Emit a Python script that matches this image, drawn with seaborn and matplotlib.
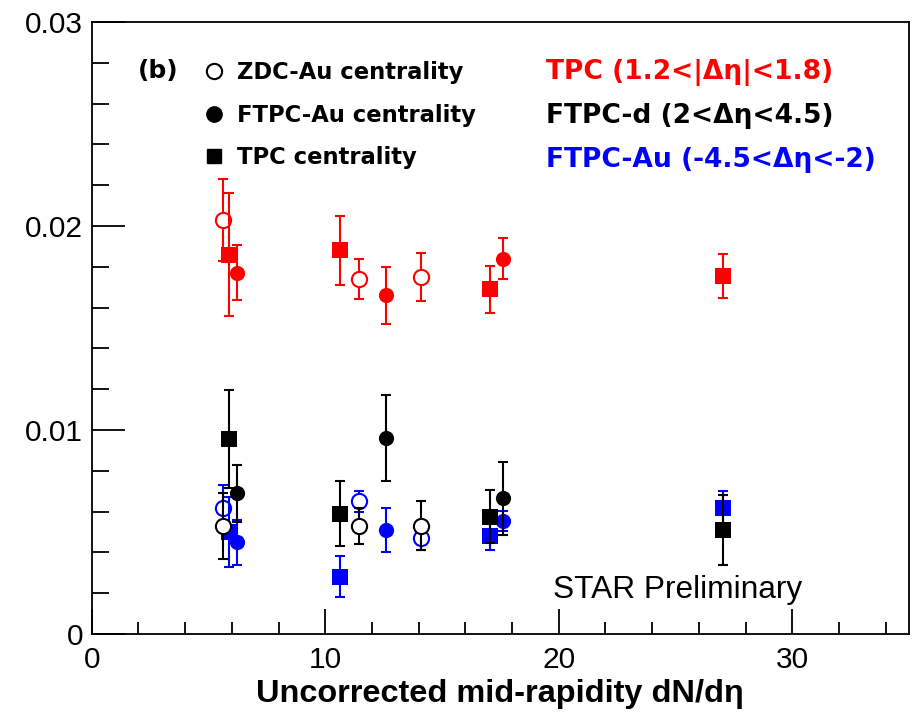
import numpy as np
import pandas as pd
import seaborn as sns
import matplotlib
matplotlib.use("Agg")
import matplotlib.pyplot as plt
from matplotlib.lines import Line2D
from matplotlib.ticker import MultipleLocator, FixedLocator

# ---------------- data ----------------
x_zdc = [5.64, 11.43, 14.11]
x_ftpc = [6.21, 12.62, 17.63]
x_tpc = [5.89, 10.62, 17.04, 27.05]

# red: TPC (1.2<|deta|<1.8)
red_zdc = [0.0203, 0.0174, 0.0175]
red_zdc_err = [0.0020, 0.0010, 0.0012]
red_ftpc = [0.0177, 0.0166, 0.0184]
red_ftpc_err = [0.00135, 0.0014, 0.0010]
red_tpc = [0.0186, 0.0188, 0.0169, 0.01755]
red_tpc_err = [0.0030, 0.0017, 0.00115, 0.0011]

# black: FTPC-d (2<deta<4.5)
blk_zdc = [0.0053, 0.0053, 0.0053]
blk_zdc_err = [0.0016, 0.0009, 0.0012]
blk_ftpc = [0.0069, 0.0096, 0.00665]
blk_ftpc_err = [0.0014, 0.0021, 0.0018]
blk_tpc = [0.00955, 0.0059, 0.00575, 0.0051]
blk_tpc_err = [0.0024, 0.0016, 0.0013, 0.0017]

# blue: FTPC-Au (-4.5<deta<-2)
blu_zdc = [0.0062, 0.0065, 0.0047]
blu_zdc_err = [0.0011, 0.0005, 0.0006]
blu_ftpc = [0.0045, 0.0051, 0.00555]
blu_ftpc_err = [0.0011, 0.0011, 0.0005]
blu_tpc = [0.0050, 0.0028, 0.0048, 0.0062]
blu_tpc_err = [0.0017, 0.0010, 0.0007, 0.0008]

region_labels = ["TPC (1.2<|\u0394\u03b7|<1.8)", "FTPC-d (2<\u0394\u03b7<4.5)", "FTPC-Au (-4.5<\u0394\u03b7<-2)"]
method_labels = ["ZDC-Au centrality", "FTPC-Au centrality", "TPC centrality"]
x_ticks = [0, 10, 20, 30]
x_ticklabels = ["0", "10", "20", "30"]
y_ticks = [0, 0.01, 0.02, 0.03]
y_ticklabels = ["0", "0.01", "0.02", "0.03"]

# ---------------- build table ----------------
rows = []
def add(region, method, xs, ys, es):
    for a, b, c in zip(xs, ys, es):
        rows.append(dict(region=region, method=method, x=a, y=b, err=c))

add("red", "ZDC", x_zdc, red_zdc, red_zdc_err)
add("red", "FTPC", x_ftpc, red_ftpc, red_ftpc_err)
add("red", "TPC", x_tpc, red_tpc, red_tpc_err)
add("blue", "ZDC", x_zdc, blu_zdc, blu_zdc_err)
add("blue", "FTPC", x_ftpc, blu_ftpc, blu_ftpc_err)
add("blue", "TPC", x_tpc, blu_tpc, blu_tpc_err)
add("black", "ZDC", x_zdc, blk_zdc, blk_zdc_err)
add("black", "FTPC", x_ftpc, blk_ftpc, blk_ftpc_err)
add("black", "TPC", x_tpc, blk_tpc, blk_tpc_err)
df = pd.DataFrame(rows)

colors = {"red": "#ff0000", "blue": "#0000ff", "black": "#000000"}
marker_of = {"ZDC": "o", "FTPC": "o", "TPC": "s"}

# ---------------- figure ----------------
sns.set_theme(style="ticks")
plt.rcParams["font.family"] = ["Liberation Sans", "DejaVu Sans"]
plt.rcParams["text.color"] = "black"
plt.rcParams["axes.labelcolor"] = "black"
plt.rcParams["xtick.color"] = "black"
plt.rcParams["ytick.color"] = "black"

WIDE = ["DejaVu Sans"]

fig = plt.figure(figsize=(9.15, 7.13), dpi=100)
ax = fig.add_axes([91.7 / 915, 1 - 634 / 713, 817.3 / 915, 612 / 713])

z = 3
for region in ["red", "blue", "black"]:
    for method in ["ZDC", "FTPC", "TPC"]:
        sub = df[(df.region == region) & (df.method == method)]
        c = colors[region]
        ax.errorbar(sub.x, sub.y, yerr=sub.err, fmt="none", ecolor=c,
                    elinewidth=1.5, capsize=3.5, capthick=1.5, zorder=z)
        face = "white" if method == "ZDC" else c
        sns.scatterplot(data=sub, x="x", y="y", ax=ax, marker=marker_of[method],
                        color=c, facecolor=face, edgecolor=c,
                        linewidth=1.5 if method == "ZDC" else 0,
                        s=120 if method != "TPC" else 125, zorder=z + 1, legend=False)
        z += 2

ax.set_xlim(0, 35)
ax.set_ylim(0, 0.03)
ax.xaxis.set_major_locator(FixedLocator(x_ticks))
ax.set_xticklabels(x_ticklabels)
ax.yaxis.set_major_locator(FixedLocator(y_ticks))
ax.set_yticklabels(y_ticklabels)
ax.xaxis.set_minor_locator(MultipleLocator(2))
ax.yaxis.set_minor_locator(MultipleLocator(0.002))
ax.tick_params(axis="x", which="major", direction="in", length=18, width=1.3,
               labelsize=21.5, pad=9, top=False)
ax.tick_params(axis="x", which="minor", direction="in", length=9, width=1.3, top=False)
ax.tick_params(axis="y", which="major", direction="in", length=24, width=1.3,
               labelsize=21.5, pad=6, right=False)
ax.tick_params(axis="y", which="minor", direction="in", length=12, width=1.3, right=False)
for sp in ax.spines.values():
    sp.set_visible(True)
    sp.set_linewidth(1.3)
    sp.set_color("black")

ax.set_xlabel("Uncorrected mid-rapidity dN/d\u03b7", fontsize=23.4, fontweight="bold", labelpad=3)
ax.set_ylabel("")

# marker legend
handles = [
    Line2D([], [], marker="o", linestyle="none", markersize=11, markerfacecolor="white",
           markeredgecolor="black", markeredgewidth=1.5),
    Line2D([], [], marker="o", linestyle="none", markersize=11, markerfacecolor="black",
           markeredgecolor="black"),
    Line2D([], [], marker="s", linestyle="none", markersize=10.5, markerfacecolor="black",
           markeredgecolor="black"),
]
leg = ax.legend(handles, method_labels, loc="upper left", bbox_to_anchor=(0.1223, 0.9545),
                frameon=False, borderpad=0, handlelength=1.0, handletextpad=0.52,
                labelspacing=0.86, prop={"family": WIDE, "weight": "bold", "size": 16.3})
for t in leg.get_texts():
    t.set_color("black")

def ax_xy(px, py):
    return (px - 91.7) / 817.3, (634 - py) / 612

ax.text(*ax_xy(138, 71), "(b)", transform=ax.transAxes, fontsize=18, fontweight="bold",
        family=WIDE, va="center", ha="left")

# colored region labels
for lab, col, py in zip(region_labels, ["red", "black", "blue"], [72, 116, 160]):
    ax.text(*ax_xy(546, py), lab, transform=ax.transAxes, color=colors[col],
            fontsize=19.1, fontweight="bold", family=WIDE, va="center", ha="left")

ax.text(*ax_xy(553, 590), "STAR Preliminary", transform=ax.transAxes,
        fontsize=22.8, va="center", ha="left")

fig.savefig("out.png", dpi=100)
